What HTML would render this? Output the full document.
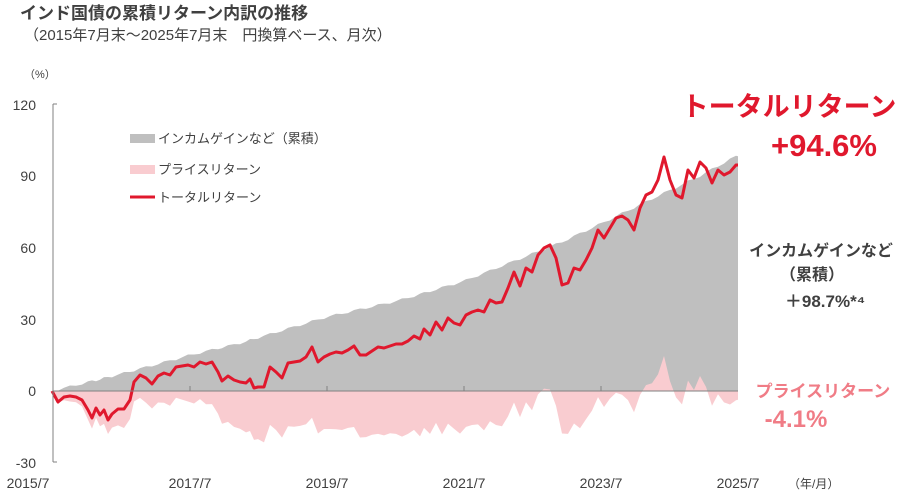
<!DOCTYPE html>
<html><head><meta charset="utf-8"><style>
body{margin:0;background:#fff;}
svg text{font-family:"Liberation Sans","Noto Sans CJK JP",sans-serif;}
</style></head><body>
<svg id="s" width="924" height="497" xmlns="http://www.w3.org/2000/svg">
<text x="20" y="19" font-size="17" font-weight="bold" fill="#404040">インド国債の累積リターン内訳の推移</text>
<text x="24" y="40" font-size="15" fill="#404040">（2015年7月末～2025年7月末　円換算ベース、月次）</text>
<text x="24" y="78" font-size="11" fill="#404040">（%）</text>
<g id="areas"></g>
<g font-size="14" fill="#404040" text-anchor="end">
<text x="36" y="110">120</text><text x="36" y="181">90</text><text x="36" y="253">60</text>
<text x="36" y="325">30</text><text x="36" y="396">0</text><text x="36" y="468">-30</text>
</g>
<line x1="53" y1="104" x2="53" y2="462" stroke="#808080" stroke-width="1"/>
<line x1="53" y1="104" x2="57" y2="104" stroke="#808080"/>
<line x1="53" y1="462" x2="57" y2="462" stroke="#808080"/>
<line x1="53" y1="391" x2="738" y2="391" stroke="#808080"/>
<g stroke="#808080"><line x1="190" y1="386" x2="190" y2="391"/><line x1="327" y1="386" x2="327" y2="391"/><line x1="464" y1="386" x2="464" y2="391"/><line x1="601" y1="386" x2="601" y2="391"/></g>
<g font-size="14" fill="#404040" text-anchor="middle">
<text x="28" y="488">2015/7</text><text x="190" y="488">2017/7</text><text x="327" y="488">2019/7</text>
<text x="464" y="488">2021/7</text><text x="601" y="488">2023/7</text><text x="738" y="488">2025/7</text>
</g>
<text x="788" y="488" font-size="12" fill="#404040">（年/月）</text>
<rect x="130" y="134" width="25" height="9" fill="#bfbfbf"/>
<text x="158" y="143" font-size="13" fill="#404040">インカムゲインなど（累積）</text>
<rect x="130" y="165" width="25" height="9" fill="#f9ccd0"/>
<text x="158" y="174" font-size="13" fill="#404040">プライスリターン</text>
<line x1="130" y1="197" x2="155" y2="197" stroke="#e0182d" stroke-width="3"/>
<text x="158" y="202" font-size="13" fill="#404040">トータルリターン</text>
<text x="789" y="116" font-size="27" font-weight="bold" fill="#e0182d" text-anchor="middle">トータルリターン</text>
<text x="824" y="156" font-size="31" font-weight="bold" fill="#e0182d" text-anchor="middle">+94.6%</text>
<text x="821" y="256" font-size="16" font-weight="bold" fill="#404040" text-anchor="middle">インカムゲインなど</text>
<text x="812" y="280" font-size="16" font-weight="bold" fill="#404040" text-anchor="middle">（累積）</text>
<text x="825" y="307" font-size="17" font-weight="bold" fill="#404040" text-anchor="middle">＋98.7%*⁴</text>
<text x="823" y="397" font-size="17" font-weight="bold" fill="#f07c86" text-anchor="middle">プライスリターン</text>
<text x="796" y="427" font-size="24" font-weight="bold" fill="#f07c86" text-anchor="middle">-4.1%</text>
</svg>
<script>
var T=[[52,391],[58,402],[64,397],[70,396],[76,397],[82,400],[88,410],[92,418],[96,408],[100,415],[104,410],[108,420],[112,414],[118,409],[124,409],[130,400],[134,382],[140,375],[146,378],[152,384],[158,376],[164,373],[170,375],[176,367],[182,366],[188,365],[194,367],[200,362],[206,364],[212,362],[218,372],[222,381],[228,376],[234,380],[240,382],[246,383],[250,379],[254,388],[258,387],[264,387],[270,367],[276,372],[282,378],[288,363],[294,362],[300,361],[306,357],[312,347],[318,362],[324,357],[330,354],[336,352],[342,353],[348,350],[354,346],[360,355],[366,355],[372,351],[378,347],[384,348],[390,346],[396,344],[402,344],[408,341],[414,336],[420,339],[424,329],[430,335],[436,322],[442,330],[448,318],[454,323],[460,325],[466,315],[472,312],[478,310],[484,312],[490,300],[496,303],[502,302],[508,288],[514,272],[520,286],[526,268],[532,272],[538,255],[544,248],[550,245],[556,258],[562,285],[568,283],[574,268],[580,270],[586,260],[592,248],[598,230],[604,238],[610,228],[616,218],[622,216],[628,220],[634,230],[640,208],[646,195],[652,192],[658,180],[664,157],[670,180],[676,195],[682,198],[688,170],[694,178],[700,162],[706,168],[712,183],[718,170],[724,175],[730,172],[736,165],[738,165]];
var I=[[52,0],[120,7],[190,15],[240,20],[327,31],[400,38],[464,46],[530,57],[560,62],[601,70],[650,80],[700,90],[738,98.7]];
function inc(x){for(var i=1;i<I.length;i++){if(x<=I[i][0]){var a=I[i-1],b=I[i],t=(x-a[0])/(b[0]-a[0]);return a[1]+t*(b[1]-a[1]);}}return 98.7;}
var gtop="",pink="",line="";
T.forEach(function(p,i){var iy=391-inc(p[0])*2.39+Math.sin(i*1.7)*1.2;if(i==0)iy=391;
gtop+=p[0]+","+iy.toFixed(1)+" ";pink+=p[0]+","+(391+(p[1]-iy)).toFixed(1)+" ";line+=p[0]+","+p[1]+" ";});
var g=document.getElementById("areas"),ns="http://www.w3.org/2000/svg";
function add(tag,attrs){var e=document.createElementNS(ns,tag);for(var k in attrs)e.setAttribute(k,attrs[k]);g.appendChild(e);}
add("polygon",{points:"52,391 "+gtop+"738,391",fill:"#bfbfbf"});
add("polygon",{points:"52,391 "+pink+"738,391",fill:"#f9ccd0"});
add("polyline",{points:line,fill:"none",stroke:"#e0182d","stroke-width":"3","stroke-linejoin":"round"});
</script>
</body></html>
